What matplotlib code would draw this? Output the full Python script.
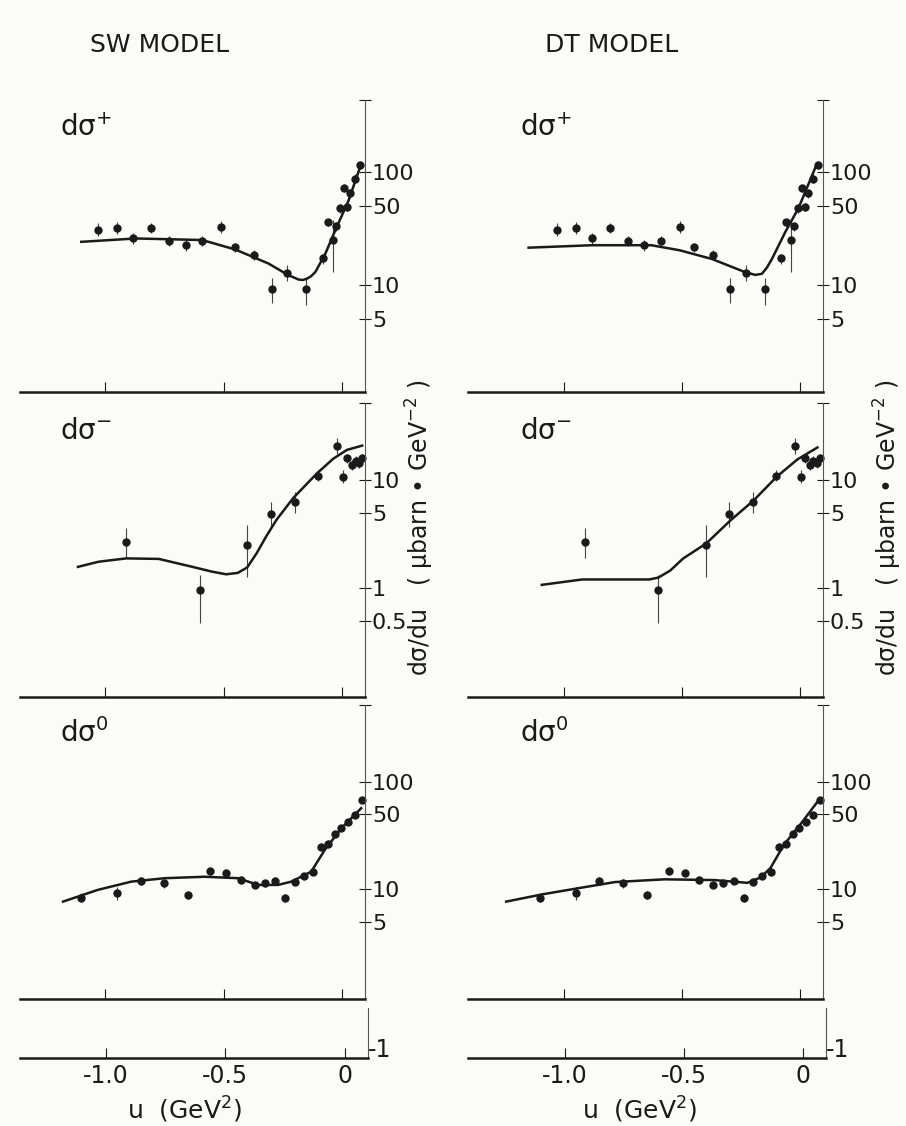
import matplotlib
matplotlib.use('Agg')
import matplotlib.pyplot as plt

W, H = 906, 1126

# measured points (same data in both columns)
u_plus = [-1.03, -0.95, -0.88, -0.805, -0.73, -0.66, -0.59, -0.51, -0.45, -0.37, -0.295, -0.23,
          -0.15, -0.08, -0.06, -0.038, -0.024, -0.007, 0.007, 0.021, 0.035, 0.056, 0.077]
v_plus = [30.6, 32, 25.8, 31.7, 24.6, 22.5, 24.6, 32.7, 21.5, 18.4, 9.2, 12.8,
          9.2, 17.2, 35.7, 25, 33, 47.5, 72, 49, 64.5, 87, 114]
lo_plus = [27, 28, 23, 29, 22, 20, 22, 29, 19.5, 16.5, 6.9, 10.8,
           6.7, 15.5, 33, 13.1, 30, 43, 66, 45, 59, 80, 105]
hi_plus = [35, 36, 29, 35, 27, 25, 27, 37, 23.5, 20.5, 11.5, 15,
           11.5, 19, 38.5, 37.5, 36, 52, 78, 53, 70, 95, 124]

u_minus = [-0.91, -0.60, -0.40, -0.30, -0.20, -0.10, -0.02, 0.003, 0.021, 0.043, 0.057, 0.071, 0.085]
v_minus = [2.69, 0.96, 2.5, 4.8, 6.3, 11.0, 20.8, 10.7, 15.9, 13.8, 15.0, 14.3, 15.9]
lo_minus = [1.88, 0.47, 1.27, 3.7, 4.9, 9.8, 17.5, 9.3, 14.5, 12.5, 13.7, 13.0, 14.5]
hi_minus = [3.57, 1.32, 3.83, 6.3, 7.8, 12.3, 24.5, 12.5, 17.5, 15.2, 16.5, 15.7, 17.5]

u_zero = [-1.10, -0.95, -0.85, -0.75, -0.65, -0.556, -0.488, -0.427, -0.368, -0.326, -0.281,
          -0.239, -0.20, -0.16, -0.122, -0.09, -0.059, -0.031, -0.003, 0.025, 0.054, 0.086]
v_zero = [8.4, 9.2, 12.0, 11.4, 8.9, 14.8, 14.3, 12.2, 11.0, 11.4, 12.0,
          8.3, 11.8, 13.3, 14.6, 24.9, 26.4, 32.7, 36.9, 42.5, 49, 67.7]
lo_zero = [7.7, 8.0, 11.0, 10.4, 8.2, 13.6, 13.2, 11.3, 10.2, 10.6, 11.1,
           7.6, 11.0, 12.4, 13.6, 23, 24.5, 30.5, 34.5, 40, 46, 63]
hi_zero = [9.2, 10.6, 13.0, 12.4, 9.7, 16.0, 15.5, 13.2, 11.9, 12.3, 13.0,
           9.1, 12.7, 14.3, 15.7, 27, 28.5, 35, 39.5, 45, 52, 72]

# model curves
sw_plus_u = [-1.10, -0.87, -0.59, -0.45, -0.31, -0.225, -0.20, -0.183, -0.165, -0.148, -0.13,
             -0.112, -0.07, -0.028, 0.028, 0.077]
sw_plus_v = [24.1, 25.8, 25.0, 20.6, 15.5, 12.2, 11.6, 11.2, 11.1, 11.4, 12.0,
             13.1, 19.0, 30.6, 56, 111]
dt_plus_u = [-1.15, -0.88, -0.63, -0.51, -0.373, -0.232, -0.189, -0.161, -0.14, -0.119, -0.062, -0.006, 0.065]
dt_plus_v = [21.4, 22.5, 22.5, 20.3, 17.0, 13.0, 12.3, 12.6, 14.3, 17.0, 29.5, 48, 109]

sw_minus_u = [-1.114, -1.028, -0.911, -0.773, -0.631, -0.55, -0.489, -0.44, -0.40, -0.36, -0.32,
              -0.277, -0.206, -0.106, -0.036, 0.021, 0.085]
sw_minus_v = [1.57, 1.75, 1.88, 1.86, 1.57, 1.42, 1.34, 1.38, 1.55, 2.1, 3.0,
              4.26, 6.8, 11.5, 15.8, 19.0, 20.8]
dt_minus_u = [-1.094, -0.923, -0.78, -0.638, -0.60, -0.55, -0.496, -0.396, -0.296, -0.197, -0.097, -0.011, 0.074]
dt_minus_v = [1.07, 1.2, 1.2, 1.2, 1.25, 1.45, 1.87, 2.6, 4.2, 6.45, 10.8, 15.5, 20.0]

sw_zero_u = [-1.177, -1.03, -0.889, -0.748, -0.579, -0.439, -0.354, -0.27, -0.214, -0.13, -0.073, -0.003, 0.081]
sw_zero_v = [7.7, 9.9, 11.8, 12.7, 13.1, 12.7, 11.0, 11.0, 11.8, 14.6, 23.2, 36.9, 56.7]
dt_zero_u = [-1.245, -1.091, -0.923, -0.783, -0.573, -0.363, -0.223, -0.167, -0.125, -0.068, 0.001, 0.085]
dt_zero_v = [7.7, 9.0, 10.4, 11.7, 12.4, 12.2, 11.5, 12.9, 15.8, 26.0, 40.0, 70.0]

panel_names = ['dσ$^{+}$', 'dσ$^{-}$', 'dσ$^{0}$']
model_titles = ['SW MODEL', 'DT MODEL']
x_ticks = [-1.0, -0.5, 0.0]
x_ticklabels = ['-1.0', '-0.5', '0']
y_ticks = [[5, 10, 50, 100], [0.5, 1, 5, 10], [5, 10, 50, 100]]
y_ticklabels = [['5', '10', '50', '100'], ['0.5', '1', '5', '10'], ['5', '10', '50', '100']]
y_limits = [(1.14, 430), (0.098, 51.6), (0.96, 515)]

points = [(u_plus, v_plus, lo_plus, hi_plus),
          (u_minus, v_minus, lo_minus, hi_minus),
          (u_zero, v_zero, lo_zero, hi_zero)]
curves = [[(sw_plus_u, sw_plus_v), (sw_minus_u, sw_minus_v), (sw_zero_u, sw_zero_v)],
          [(dt_plus_u, dt_plus_v), (dt_minus_u, dt_minus_v), (dt_zero_u, dt_zero_v)]]

# pixel layout of columns / rows
col_px = [dict(x0=20, x1=365, zero=342, scale=237), dict(x0=468, x1=823, zero=800, scale=236)]
row_px = [(100, 392), (403, 697), (705, 999)]
strip_px = (1008, 1058)

ink = '#1a1a1a'
fig = plt.figure(figsize=(9.06, 11.26), dpi=100)
fig.patch.set_facecolor('#fbfbf8')


def box(x0, y0, x1, y1):
    return [x0 / W, 1 - y1 / H, (x1 - x0) / W, (y1 - y0) / H]


def style(ax, xlim):
    ax.set_facecolor('none')
    ax.set_xlim(*xlim)
    for s in ['left', 'top']:
        ax.spines[s].set_visible(False)
    ax.spines['bottom'].set_linewidth(1.8)
    ax.spines['bottom'].set_color(ink)
    ax.spines['right'].set_linewidth(0.8)
    ax.spines['right'].set_color('#555555')
    ax.set_xticks(x_ticks)
    ax.tick_params(axis='x', direction='in', length=7, width=0.8, colors=ink)
    ax.yaxis.tick_right()
    ax.tick_params(axis='y', direction='inout', length=8, width=0.8, colors=ink,
                   labelsize=16, pad=1)


for c, col in enumerate(col_px):
    xlim = ((col['x0'] - col['zero']) / col['scale'], (col['x1'] - col['zero']) / col['scale'])
    for r, (y0, y1) in enumerate(row_px):
        ax = fig.add_axes(box(col['x0'], y0, col['x1'], y1))
        style(ax, xlim)
        ax.set_yscale('log')
        ax.set_ylim(*y_limits[r])
        ax.set_yticks(y_ticks[r] + [y_limits[r][1]])
        ax.set_yticklabels(y_ticklabels[r] + [''])
        ax.minorticks_off()
        ax.set_xticklabels([])
        u, v, lo, hi = points[r]
        yerr = [[vi - l for vi, l in zip(v, lo)], [h - vi for vi, h in zip(v, hi)]]
        ax.errorbar(u, v, yerr=yerr, fmt='o', ms=5, color=ink, ecolor='#444444',
                    elinewidth=0.8, capsize=0, clip_on=False)
        cu, cv = curves[c][r]
        ax.plot(cu, cv, color=ink, lw=1.8)
        fig.text((col['x0'] + (40 if c == 0 else 52)) / W, 1 - (y0 + 28) / H,
                 panel_names[r], fontsize=20, color=ink, va='center', ha='left')

    # x axis strip at the bottom
    ax = fig.add_axes(box(col['x0'], strip_px[0], col['x1'] + 3, strip_px[1]))
    style(ax, xlim)
    ax.set_yticks([])
    ax.set_ylim(0, 1)
    ax.set_xticklabels(x_ticklabels, fontsize=17)
    ax.tick_params(axis='x', pad=4)
    ax.text(1.0, 0.16, '-1', transform=ax.transAxes, fontsize=17, color=ink,
            ha='left', va='center')
    fig.text((185 if c == 0 else 640) / W, 1 - 1110 / H, 'u  (GeV$^2$)',
             fontsize=18, color=ink, ha='center', va='center')

fig.text(90 / W, 1 - 45 / H, model_titles[0], fontsize=18, color=ink, va='center', ha='left')
fig.text(545 / W, 1 - 45 / H, model_titles[1], fontsize=18, color=ink, va='center', ha='left')

for xc in [420, 888]:
    fig.text(xc / W, 1 - 528 / H, 'dσ/du   ( μbarn • GeV$^{-2}$ )', rotation=90,
             fontsize=17, color=ink, ha='center', va='center')

fig.savefig('out.png', dpi=100, facecolor=fig.get_facecolor())
